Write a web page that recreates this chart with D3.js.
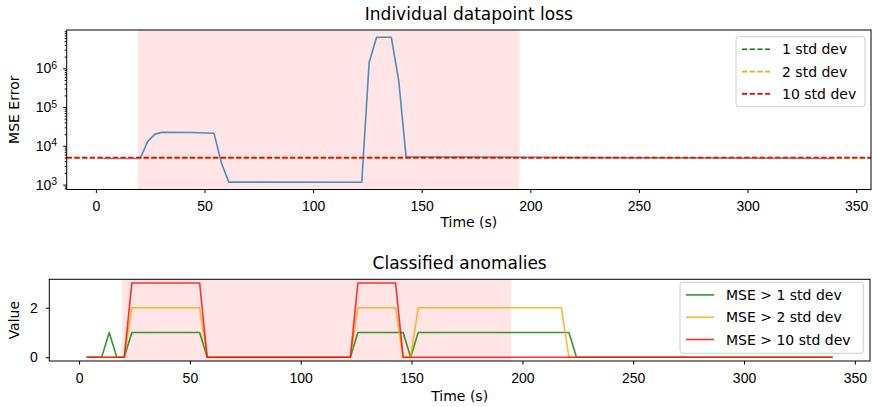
<!DOCTYPE html>
<html>
<head>
<meta charset="utf-8">
<script src="https://cdn.jsdelivr.net/npm/d3@7"></script>
<style>
  body { margin: 0; background: #fff; }
  svg { display: block; font-family: "DejaVu Sans", sans-serif; }
</style>
</head>
<body>
<svg id="chart"></svg>
<script>
// ---- data ----
// per-datapoint loss (vertices of the polyline)
const lossTime  = [3.4, 20.4, 23.8, 27.2, 30.6, 44.2, 54.4, 57.8, 61.2, 122.4, 125.8, 129.2, 136.0, 139.4, 142.8, 340.0]
const lossValue = [4700, 4700, 12800, 20000, 22300, 22000, 21000, 3600, 1160, 1150, 1400000, 6300000, 6300000, 490000, 5200, 4700]

const thresholdNames  = ["1 std dev", "2 std dev", "10 std dev"]
const thresholdValues = [4800, 4800, 4950]

// anomaly classes (vertices)
const greenTime   = [3.4, 10.2, 13.6, 17.0, 20.4, 23.8, 54.4, 57.8, 122.4, 125.8, 146.2, 149.6, 153.0, 221.0, 224.4, 340.0]
const greenValue  = [0, 0, 1, 0, 0, 1, 1, 0, 0, 1, 1, 0, 1, 1, 0, 0]
const orangeTime  = [3.4, 20.4, 23.8, 54.4, 57.8, 122.4, 125.8, 142.8, 146.2, 149.6, 153.0, 217.6, 221.0, 340.0]
const orangeValue = [0, 0, 2, 2, 0, 0, 2, 2, 0, 0, 2, 2, 0, 0]
const redTime     = [3.4, 20.4, 23.8, 54.4, 57.8, 122.4, 125.8, 142.8, 146.2, 340.0]
const redValue    = [0, 0, 3, 3, 0, 0, 3, 3, 0, 0]
const classNames  = ["MSE > 1 std dev", "MSE > 2 std dev", "MSE > 10 std dev"]

const anomalySpan = [19.3, 195]
const xTicks = [0, 50, 100, 150, 200, 250, 300, 350]
const valueTicks = [0, 2]

const colors = ["green", "orange", "red"]

// ---- layout ----
const width = 872, height = 407
const fs = 14
const topBox = { left: 66.7, right: 871, top: 30, bottom: 189.5 }
const botBox = { left: 49.3, right: 870, top: 279.3, bottom: 361 }

const svg = d3.select("#chart")
    .attr("width", width)
    .attr("height", height)
    .attr("viewBox", [0, 0, width, height])

const pad5 = (lo, hi) => [lo - (hi - lo) * 0.05, hi + (hi - lo) * 0.05]
const xDomain = pad5(d3.min(lossTime), d3.max(lossTime))

const zip = (a, b) => a.map((d, i) => [d, b[i]])

function legend(g, box, names, dashed, opacity) {
  const lg = g.append("g")
  lg.append("rect")
      .attr("x", box.x).attr("y", box.y)
      .attr("width", box.w).attr("height", box.h)
      .attr("rx", 3)
      .attr("fill", "#fff").attr("fill-opacity", 0.8)
      .attr("stroke", "#cccccc").attr("stroke-width", 1)
  names.forEach((name, i) => {
    const cy = box.y + 12.6 + i * 22.3
    lg.append("line")
        .attr("x1", box.x + 6).attr("x2", box.x + 34)
        .attr("y1", cy).attr("y2", cy)
        .attr("stroke", colors[i])
        .attr("stroke-opacity", opacity)
        .attr("stroke-width", 1.6)
        .attr("stroke-dasharray", dashed ? "5.2 2.5" : null)
    lg.append("text")
        .attr("x", box.x + 46).attr("y", cy + 5)
        .attr("font-size", fs)
        .attr("fill", "#000")
        .text(name)
  })
}

// ================= top panel =================
{
  const x = d3.scaleLinear().domain(xDomain).range([topBox.left, topBox.right])
  const logExt = d3.extent(lossValue).map(Math.log10)
  const y = d3.scaleLog()
      .domain(pad5(logExt[0], logExt[1]).map(v => Math.pow(10, v)))
      .range([topBox.bottom, topBox.top])

  const g = svg.append("g")

  g.append("rect")
      .attr("x", x(anomalySpan[0]))
      .attr("width", x(anomalySpan[1]) - x(anomalySpan[0]))
      .attr("y", topBox.top)
      .attr("height", topBox.bottom - topBox.top)
      .attr("fill", "red").attr("fill-opacity", 0.1)

  const line = d3.line().x(d => x(d[0])).y(d => y(d[1]))
  g.append("path")
      .attr("fill", "none")
      .attr("stroke", "#1f77b4").attr("stroke-opacity", 0.8)
      .attr("stroke-width", 1.6)
      .attr("stroke-linejoin", "round")
      .attr("d", line(zip(lossTime, lossValue)))

  thresholdValues.forEach((v, i) => {
    g.append("line")
        .attr("x1", topBox.left).attr("x2", topBox.right)
        .attr("y1", y(v)).attr("y2", y(v))
        .attr("stroke", colors[i])
        .attr("stroke-width", 1.6)
        .attr("stroke-dasharray", "5.2 2.5")
  })

  // x axis
  g.append("g")
      .attr("transform", `translate(0,${topBox.bottom})`)
      .call(d3.axisBottom(x).tickValues(xTicks).tickSize(3.5).tickPadding(8.3).tickSizeOuter(0))
      .call(a => a.select(".domain").remove())
      .call(a => a.selectAll("text").attr("font-size", fs).attr("fill", "#000").attr("font-family", null))

  // y axis: minor ticks
  const minor = y.ticks().filter(v => Math.abs(Math.log10(v) - Math.round(Math.log10(v))) > 1e-6)
  g.append("g")
      .attr("transform", `translate(${topBox.left},0)`)
      .call(d3.axisLeft(y).tickValues(minor).tickSize(2).tickFormat(""))
      .call(a => a.select(".domain").remove())

  // y axis: decades with superscript labels
  const majors = y.ticks().filter(v => Math.abs(Math.log10(v) - Math.round(Math.log10(v))) < 1e-6)
  g.append("g")
      .attr("transform", `translate(${topBox.left},0)`)
      .call(d3.axisLeft(y).tickValues(majors).tickSize(3.5).tickPadding(6).tickFormat(""))
      .call(a => a.select(".domain").remove())
      .call(a => a.selectAll(".tick text").each(function(d) {
        const t = d3.select(this).attr("font-size", fs).attr("fill", "#000").attr("font-family", null)
        t.append("tspan").text("10")
        t.append("tspan").attr("dy", "-0.42em").attr("font-size", fs * 0.75)
            .text(Math.round(Math.log10(d)))
      }))

  g.append("rect")
      .attr("x", topBox.left).attr("y", topBox.top)
      .attr("width", topBox.right - topBox.left)
      .attr("height", topBox.bottom - topBox.top)
      .attr("fill", "none").attr("stroke", "#000").attr("stroke-width", 1)

  g.append("text")
      .attr("x", (topBox.left + topBox.right) / 2).attr("y", topBox.top - 10)
      .attr("text-anchor", "middle").attr("font-size", 17)
      .text("Individual datapoint loss")
  g.append("text")
      .attr("x", (topBox.left + topBox.right) / 2).attr("y", topBox.bottom + 37)
      .attr("text-anchor", "middle").attr("font-size", fs)
      .text("Time (s)")
  g.append("text")
      .attr("transform", `translate(19,${(topBox.top + topBox.bottom) / 2}) rotate(-90)`)
      .attr("text-anchor", "middle").attr("font-size", fs)
      .text("MSE Error")

  legend(g, { x: 736, y: 36.7, w: 129, h: 70 }, thresholdNames, true, 1)
}

// ================= bottom panel =================
{
  const x = d3.scaleLinear().domain(xDomain).range([botBox.left, botBox.right])
  const y = d3.scaleLinear().domain(pad5(0, 3)).range([botBox.bottom, botBox.top])

  const g = svg.append("g")

  g.append("rect")
      .attr("x", x(anomalySpan[0]))
      .attr("width", x(anomalySpan[1]) - x(anomalySpan[0]))
      .attr("y", botBox.top)
      .attr("height", botBox.bottom - botBox.top)
      .attr("fill", "red").attr("fill-opacity", 0.1)

  const line = d3.line().x(d => x(d[0])).y(d => y(d[1]))
  const series = [zip(greenTime, greenValue), zip(orangeTime, orangeValue), zip(redTime, redValue)]
  series.forEach((s, i) => {
    g.append("path")
        .attr("fill", "none")
        .attr("stroke", colors[i]).attr("stroke-opacity", 0.8)
        .attr("stroke-width", 1.6)
        .attr("stroke-linejoin", "round")
        .attr("d", line(s))
  })

  g.append("g")
      .attr("transform", `translate(0,${botBox.bottom})`)
      .call(d3.axisBottom(x).tickValues(xTicks).tickSize(3.5).tickPadding(8.3).tickSizeOuter(0))
      .call(a => a.select(".domain").remove())
      .call(a => a.selectAll("text").attr("font-size", fs).attr("fill", "#000").attr("font-family", null))

  g.append("g")
      .attr("transform", `translate(${botBox.left},0)`)
      .call(d3.axisLeft(y).tickValues(valueTicks).tickFormat(d3.format("d"))
        .tickSize(3.5).tickPadding(8).tickSizeOuter(0))
      .call(a => a.select(".domain").remove())
      .call(a => a.selectAll("text").attr("font-size", fs).attr("fill", "#000").attr("font-family", null))

  g.append("rect")
      .attr("x", botBox.left).attr("y", botBox.top)
      .attr("width", botBox.right - botBox.left)
      .attr("height", botBox.bottom - botBox.top)
      .attr("fill", "none").attr("stroke", "#000").attr("stroke-width", 1)

  g.append("text")
      .attr("x", (botBox.left + botBox.right) / 2).attr("y", botBox.top - 10)
      .attr("text-anchor", "middle").attr("font-size", 17)
      .text("Classified anomalies")
  g.append("text")
      .attr("x", (botBox.left + botBox.right) / 2).attr("y", botBox.bottom + 40)
      .attr("text-anchor", "middle").attr("font-size", fs)
      .text("Time (s)")
  g.append("text")
      .attr("transform", `translate(19,${(botBox.top + botBox.bottom) / 2}) rotate(-90)`)
      .attr("text-anchor", "middle").attr("font-size", fs)
      .text("Value")

  legend(g, { x: 680, y: 282.3, w: 183.3, h: 71 }, classNames, false, 0.8)
}
</script>
</body>
</html>
